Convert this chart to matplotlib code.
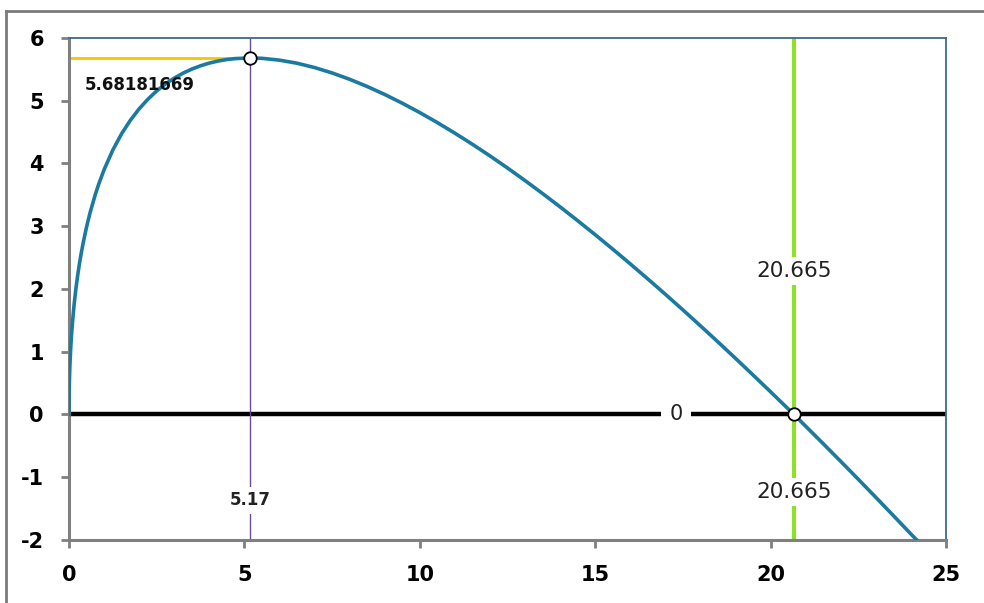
import matplotlib
matplotlib.use('Agg')
import matplotlib.pyplot as plt
from matplotlib.lines import Line2D

# curve values
curve_x = [0, 0.005, 0.01, 0.02, 0.03, 0.05, 0.07, 0.1, 0.15, 0.2, 0.25, 0.3, 0.35, 0.4,
           0.5, 0.6, 0.75, 0.85, 1, 1.25, 1.5, 1.75, 2, 2.25, 2.5, 2.75, 3, 3.25, 3.5,
           3.75, 4, 4.25, 4.5, 4.75, 5.17, 5.5, 6, 6.5, 7, 7.5, 8, 8.5, 9, 9.5, 10,
           10.5, 11, 11.5, 12, 12.5, 13, 13.5, 14, 14.5, 15, 15.5, 16, 16.5, 17, 17.5,
           18, 18.5, 19, 19.5, 20, 20.3, 20.665, 21, 21.5, 22, 22.5, 23, 23.5, 24, 24.2]
curve_y = [0, 0.348, 0.489, 0.685, 0.833, 1.063, 1.246, 1.471, 1.771, 2.016, 2.225, 2.409,
           2.573, 2.722, 2.986, 3.213, 3.505, 3.675, 3.9, 4.215, 4.474, 4.689, 4.871, 5.025,
           5.156, 5.267, 5.36, 5.439, 5.504, 5.557, 5.6, 5.633, 5.657, 5.672, 5.682, 5.676,
           5.647, 5.598, 5.529, 5.443, 5.342, 5.227, 5.1, 4.961, 4.811, 4.652, 4.483, 4.306,
           4.121, 3.928, 3.728, 3.521, 3.308, 3.089, 2.865, 2.635, 2.4, 2.16, 1.916, 1.667,
           1.413, 1.156, 0.894, 0.629, 0.361, 0.198, 0.0, -0.187, -0.466, -0.748, -1.033,
           -1.321, -1.612, -1.905, -2.02]

max_x = 5.17
max_y = 5.68181669
root_x = 20.665
zero_label_x = 17.3

x_ticks = [0, 5, 10, 15, 20, 25]
y_ticks = [-2, -1, 0, 1, 2, 3, 4, 5, 6]

fig = plt.figure(figsize=(9.84, 6.03), dpi=100)
ax = fig.add_axes([0.0701, 0.1045, 0.8913, 0.8325])

# guide lines
ax.axhline(0, color='black', lw=3.2, zorder=2)
ax.axvline(root_x, color='#8fe02a', lw=3, zorder=2)
ax.axvline(max_x, color='#6a4c9c', lw=1, zorder=2)
ax.plot([0, max_x], [max_y, max_y], color='#f5c800', lw=2, zorder=2)

# curve
ax.plot(curve_x, curve_y, color='#1b7aa0', lw=2.6, zorder=3, solid_joinstyle='round')

# markers
ax.plot([max_x, root_x], [max_y, 0], 'o', ms=9, mfc='white', mec='black', mew=1.3, zorder=5)

# labels
box = dict(facecolor='white', edgecolor='none', pad=3)
ax.text(zero_label_x, 0, '0', ha='center', va='center', fontsize=15, color='#222222',
        bbox=dict(facecolor='white', edgecolor='none', pad=6), zorder=4)
ax.text(root_x, 2.29, f'{root_x}', ha='center', va='center', fontsize=15.5, color='#222222',
        bbox=box, zorder=4)
ax.text(root_x, -1.24, f'{root_x}', ha='center', va='center', fontsize=15.5, color='#222222',
        bbox=box, zorder=4)
ax.text(max_x, -1.37, f'{max_x}', ha='center', va='center', fontsize=12, color='#222222',
        fontweight='bold', bbox=box, zorder=4)
ax.text(0.45, 5.25, f'{max_y}', ha='left', va='center', fontsize=12, color='#111111',
        fontweight='bold', zorder=4)

ax.set_xlim(0, 25)
ax.set_ylim(-2, 6)
ax.set_xticks(x_ticks)
ax.set_yticks(y_ticks)
ax.set_xticklabels([str(t) for t in x_ticks], fontsize=15, fontweight='bold')
ax.set_yticklabels([str(t) for t in y_ticks], fontsize=15, fontweight='bold')
ax.tick_params(axis='both', direction='out', length=6, width=2, color='#808080', pad=12)

for side in ['left', 'bottom']:
    ax.spines[side].set_color('#808080')
    ax.spines[side].set_linewidth(2.2)
for side in ['top', 'right']:
    ax.spines[side].set_color('#3e6a8a')
    ax.spines[side].set_linewidth(1.3)

# outer chart border
fig.add_artist(Line2D([0.0061, 1.0], [0.982, 0.982], color='#7a7a7a', lw=2))
fig.add_artist(Line2D([0.0061, 0.0061], [0.0, 0.982], color='#7a7a7a', lw=2))

fig.savefig('out.png', dpi=100, facecolor='white')
